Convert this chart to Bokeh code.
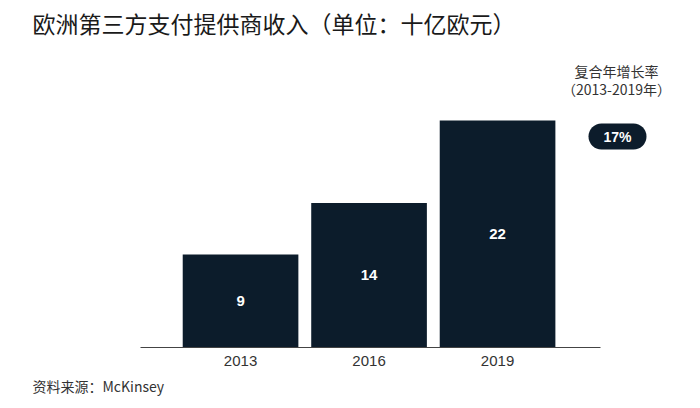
from bokeh.plotting import figure
from bokeh.models import Range1d, Label, ColumnDataSource, FixedTicker, Title
from bokeh.core.properties import value
from bokeh.embed import file_html
from bokeh.resources import INLINE

years = ["2013", "2016", "2019"]
revenue = [9, 14, 22]
title_text = "欧洲第三方支付提供商收入（单位：十亿欧元）"
cagr_title = "复合年增长率"
cagr_period = "（2013-2019年）"
cagr_value = "17%"
source_text = "资料来源：McKinsey"

BAR = "#0c1c2b"
CJK = "Noto Sans CJK SC"
LAT = "Liberation Sans"

idx = list(range(len(years)))
src = ColumnDataSource(dict(x=idx, top=revenue, mid=[v / 2 for v in revenue],
                            lbl=[str(v) for v in revenue]))

W, H = 692, 400
p = figure(x_range=Range1d(-1.868, 3.517), y_range=Range1d(0, 33.62),
           width=W, height=H,
           min_border_left=0, min_border_right=0, min_border_top=0,
           min_border_bottom=52,
           output_backend="svg", toolbar_location=None)

p.vbar(x="x", top="top", width=0.9, source=src, fill_color=BAR, line_color=None)
p.text(x="x", y="mid", text="lbl", source=src, text_color="white",
       text_font=value(LAT), text_font_size="15px", text_font_style="bold",
       text_align="center", text_baseline="middle")

p.yaxis.visible = False
p.xgrid.visible = False
p.ygrid.visible = False
p.outline_line_color = None
p.xaxis.ticker = FixedTicker(ticks=idx)
p.xaxis.major_label_overrides = {i: y for i, y in zip(idx, years)}
p.xaxis.bounds = (-0.5 - 0.28, len(years) - 0.5 + 0.30)
p.xaxis.axis_line_color = "#444444"
p.xaxis.axis_line_width = 1
p.xaxis.major_tick_line_color = None
p.xaxis.minor_tick_line_color = None
p.xaxis.major_label_text_font = LAT
p.xaxis.major_label_text_font_size = "15px"
p.xaxis.major_label_text_color = "#333333"
p.xaxis.major_label_standoff = 2

p.add_layout(Title(text=source_text, align="left", offset=32, standoff=10,
                   text_font=CJK, text_font_size="14px", text_font_style="normal",
                   text_color="#333333"), "below")

# screen-unit labels: x from frame left, y up from frame bottom (axis line)
p.add_layout(Label(x=32, y=325, x_units="screen", y_units="screen", text=title_text,
                   text_font=CJK, text_font_size="23px", text_color="#1a1a1a",
                   text_align="left", text_baseline="middle"))
p.add_layout(Label(x=616, y=277, x_units="screen", y_units="screen", text=cagr_title,
                   text_font=CJK, text_font_size="14px", text_color="#333333",
                   text_align="center", text_baseline="middle"))
p.add_layout(Label(x=616, y=259, x_units="screen", y_units="screen", text=cagr_period,
                   text_font=CJK, text_font_size="14px", text_color="#333333",
                   text_align="center", text_baseline="middle"))
p.add_layout(Label(x=617, y=211, x_units="screen", y_units="screen", text=cagr_value,
                   text_font=LAT, text_font_size="14px", text_font_style="bold",
                   text_color="white", text_align="center", text_baseline="middle",
                   background_fill_color=BAR, border_radius=13,
                   padding=dict(left=15, right=15, top=5, bottom=5)))

open("out.html", "w").write(file_html(p, INLINE))
